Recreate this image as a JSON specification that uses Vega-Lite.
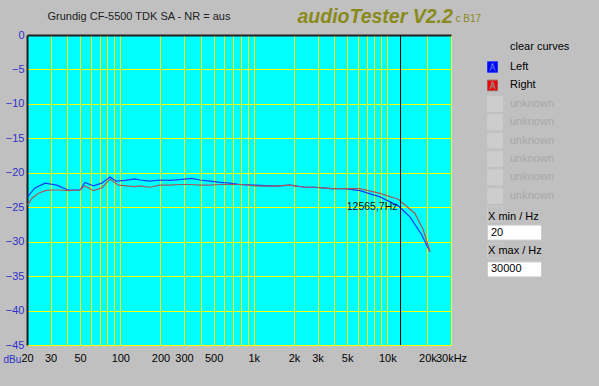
{
  "$schema": "https://vega.github.io/schema/vega-lite/v6.json",
  "width": 424,
  "height": 310,
  "autosize": {"type": "none"},
  "padding": {"left": 27, "top": 35, "right": 148, "bottom": 41},
  "background": "#c0c0c0",
  "config": {"view": {"fill": "#00ffff", "stroke": null}, "font": "Liberation Sans"},
  "datasets": {
    "curves": [
      {"s": "Left", "f": 20.2, "db": -23.5}, {"s": "Left", "f": 22.9, "db": -22.2}, {"s": "Left", "f": 27.3, "db": -21.5}, {"s": "Left", "f": 33.4, "db": -21.8},
      {"s": "Left", "f": 40.6, "db": -22.5}, {"s": "Left", "f": 49.9, "db": -22.5}, {"s": "Left", "f": 54.4, "db": -21.4}, {"s": "Left", "f": 62.8, "db": -21.9},
      {"s": "Left", "f": 72.6, "db": -21.5}, {"s": "Left", "f": 83.7, "db": -20.6}, {"s": "Left", "f": 92.8, "db": -21.2}, {"s": "Left", "f": 108.4, "db": -21.1},
      {"s": "Left", "f": 128.9, "db": -20.9}, {"s": "Left", "f": 140.4, "db": -21.05}, {"s": "Left", "f": 166.8, "db": -21.2}, {"s": "Left", "f": 198, "db": -21.05},
      {"s": "Left", "f": 235.6, "db": -21.1}, {"s": "Left", "f": 280, "db": -21.0}, {"s": "Left", "f": 342.6, "db": -20.8}, {"s": "Left", "f": 395.5, "db": -21.05},
      {"s": "Left", "f": 469.8, "db": -21.2}, {"s": "Left", "f": 558, "db": -21.4}, {"s": "Left", "f": 663, "db": -21.5}, {"s": "Left", "f": 788, "db": -21.7},
      {"s": "Left", "f": 1020, "db": -21.8}, {"s": "Left", "f": 1442, "db": -21.95}, {"s": "Left", "f": 1867, "db": -21.8}, {"s": "Left", "f": 2419, "db": -22.1},
      {"s": "Left", "f": 2871, "db": -22.1}, {"s": "Left", "f": 3832, "db": -22.3}, {"s": "Left", "f": 4822, "db": -22.3}, {"s": "Left", "f": 6238, "db": -22.6},
      {"s": "Left", "f": 8804, "db": -23.5}, {"s": "Left", "f": 12080, "db": -24.8}, {"s": "Left", "f": 14780, "db": -26.4}, {"s": "Left", "f": 18100, "db": -29.0},
      {"s": "Left", "f": 20880, "db": -31.5},
      {"s": "Right", "f": 20.2, "db": -24.7}, {"s": "Right", "f": 21.8, "db": -23.7}, {"s": "Right", "f": 24.2, "db": -23.0}, {"s": "Right", "f": 27.3, "db": -22.6},
      {"s": "Right", "f": 30.6, "db": -22.5}, {"s": "Right", "f": 35.3, "db": -22.5}, {"s": "Right", "f": 40.6, "db": -22.6}, {"s": "Right", "f": 49.9, "db": -22.5},
      {"s": "Right", "f": 54.4, "db": -21.9}, {"s": "Right", "f": 62.8, "db": -22.6}, {"s": "Right", "f": 72.6, "db": -22.2}, {"s": "Right", "f": 83.7, "db": -20.9},
      {"s": "Right", "f": 96.6, "db": -21.8}, {"s": "Right", "f": 128.9, "db": -22.0}, {"s": "Right", "f": 140.4, "db": -21.9}, {"s": "Right", "f": 166.8, "db": -22.1},
      {"s": "Right", "f": 198, "db": -21.8}, {"s": "Right", "f": 235.6, "db": -21.8}, {"s": "Right", "f": 280, "db": -21.7}, {"s": "Right", "f": 336, "db": -21.7},
      {"s": "Right", "f": 395.5, "db": -21.8}, {"s": "Right", "f": 469.8, "db": -21.8}, {"s": "Right", "f": 558, "db": -21.7}, {"s": "Right", "f": 663, "db": -21.7},
      {"s": "Right", "f": 788, "db": -21.7}, {"s": "Right", "f": 1020, "db": -21.9}, {"s": "Right", "f": 1442, "db": -21.95}, {"s": "Right", "f": 1867, "db": -21.8},
      {"s": "Right", "f": 2419, "db": -22.1}, {"s": "Right", "f": 2871, "db": -22.1}, {"s": "Right", "f": 3832, "db": -22.3}, {"s": "Right", "f": 4822, "db": -22.3},
      {"s": "Right", "f": 6238, "db": -22.3}, {"s": "Right", "f": 8804, "db": -23.0}, {"s": "Right", "f": 12080, "db": -23.85}, {"s": "Right", "f": 16110, "db": -25.9},
      {"s": "Right", "f": 18600, "db": -28.3}, {"s": "Right", "f": 20880, "db": -31.5}
    ],
    "cursor": [{"f": 12565.7, "db": -25, "label": "12565,7Hz"}]
  },
  "resolve": {"axis": {"x": "independent", "y": "independent"}},
  "layer": [
    {
      "data": {"name": "curves"},
      "mark": {"type": "line", "strokeWidth": 1.2},
      "encoding": {
        "x": {
          "field": "f", "type": "quantitative",
          "scale": {"type": "log", "domain": [20, 30000], "nice": false},
          "axis": {
            "orient": "bottom",
            "values": [20, 30, 40, 50, 60, 70, 80, 90, 100, 200, 300, 400, 500, 600, 700, 800, 900, 1000, 2000, 3000, 4000, 5000, 6000, 7000, 8000, 9000, 10000, 20000, 30000],
            "labelExpr": "indexof([20,30,50,100,200,300,500,1000,2000,3000,5000,10000,20000,30000], datum.value) < 0 ? '' : datum.value == 30000 ? '30kHz' : datum.value >= 1000 ? (datum.value / 1000) + 'k' : '' + datum.value",
            "grid": true, "gridColor": "#ffff00", "gridOpacity": 1, "gridWidth": 1,
            "ticks": false, "domain": false,
            "labelPadding": 7, "labelFontSize": 11, "labelColor": "#000000", "labelFont": "Liberation Sans",
            "labelFlush": false, "labelOverlap": false, "labelBound": false,
            "title": "c B17", "titleFontSize": 10, "titleFontWeight": "normal", "titleColor": "#8a8a1a",
            "titleX": 428, "titleY": -324, "titleAlign": "left", "titleBaseline": "alphabetic"
          }
        },
        "y": {
          "field": "db", "type": "quantitative",
          "scale": {"domain": [-45, 0], "nice": false},
          "axis": {
            "orient": "left",
            "values": [0, -5, -10, -15, -20, -25, -30, -35, -40, -45],
            "grid": true, "gridColor": "#ffff00", "gridOpacity": 1, "gridWidth": 1,
            "ticks": false, "domain": true, "domainColor": "#202020", "domainWidth": 2,
            "labelPadding": 3, "labelFontSize": 11, "labelColor": "#3030c8", "labelFont": "Liberation Sans", "labelFlush": false,
            "title": "dBu", "titleAngle": 0, "titleX": -24, "titleY": 327, "titleAlign": "left", "titleBaseline": "alphabetic",
            "titleFontSize": 10, "titleFontWeight": "normal", "titleColor": "#3030c8"
          }
        },
        "color": {
          "field": "s", "type": "nominal",
          "scale": {
            "domain": ["Left", "Right", "u1", "u2", "u3", "u4", "u5", "u6", "xmin", "xminv", "xmax", "xmaxv"],
            "range": ["#1838ff", "#a85858", "#cccccc", "#cccccc", "#cccccc", "#cccccc", "#cccccc", "#cccccc", "#cccccc", "#cccccc", "#cccccc", "#cccccc"]
          },
          "legend": {
            "orient": "none", "legendX": 460, "legendY": 5.5, "direction": "vertical", "padding": 0, "gridAlign": "all",
            "title": "clear curves", "titleFontSize": 11, "titleFontWeight": "normal", "titleColor": "#000000", "titlePadding": 7.5, "titleBaseline": "top",
            "symbolType": "square", "symbolSize": 225, "rowPadding": -1.6, "labelOffset": 7,
            "labelFontSize": 11, "labelFont": "Liberation Sans",
            "labelExpr": "datum.value == 'xmin' ? 'X min / Hz' : datum.value == 'xminv' ? '20' : datum.value == 'xmax' ? 'X max / Hz' : datum.value == 'xmaxv' ? '30000' : indexof(datum.value, 'u') == 0 ? 'unknown' : datum.value",
            "encode": {
              "symbols": {"update": {
                "fill": {"signal": "datum.value == 'Left' ? '#0000f0' : datum.value == 'Right' ? '#f00000' : indexof(datum.value, 'u') == 0 ? '#cdcdcd' : (datum.value == 'xminv' || datum.value == 'xmaxv') ? '#ffffff' : 'transparent'"},
                "stroke": {"signal": "indexof(datum.value, 'u') == 0 ? '#eeeeee' : (datum.value == 'xminv' || datum.value == 'xmaxv') ? '#808080' : 'transparent'"},
                "strokeWidth": {"value": 1},
                "opacity": {"value": 1},
                "shape": {"signal": "(datum.value == 'Left' || datum.value == 'Right') ? 'M-1,-0.7H0.33V0.7H-1Z M-0.40,-0.5L-0.71,0.45L-0.58,0.45L-0.51,0.22L-0.15,0.22L-0.08,0.45L0.05,0.45L-0.26,-0.5Z M-0.33,-0.25L-0.22,0.1L-0.44,0.1Z' : (datum.value == 'xminv' || datum.value == 'xmaxv') ? 'M-1,-1H6.2V1H-1Z' : 'square'"}
              }},
              "labels": {"update": {
                "fill": {"signal": "indexof(datum.value, 'u') == 0 ? '#a8a8a8' : '#000000'"},
                "dx": {"signal": "(datum.value == 'xmin' || datum.value == 'xmax') ? -22 : (datum.value == 'xminv' || datum.value == 'xmaxv') ? -19 : 0"},
                "dy": {"signal": "datum.value == 'xmin' ? 3 : 0"}
              }},
              "title": {"update": {"dx": {"value": 23}}}
            }
          }
        }
      }
    },
    {
      "data": {"name": "cursor"},
      "mark": {"type": "rule", "color": "#000000", "strokeWidth": 1},
      "encoding": {
        "x": {
          "field": "f", "type": "quantitative",
          "axis": {
            "orient": "top", "labels": false, "ticks": false, "grid": false,
            "domain": true, "domainColor": "#202020", "domainWidth": 2,
            "title": "Grundig CF-5500 TDK SA - NR = aus", "titleX": 20, "titleY": -16, "titleAlign": "left", "titleBaseline": "alphabetic",
            "titleFontSize": 11, "titleFontWeight": "normal", "titleColor": "#202020", "titleFont": "Liberation Sans"
          }
        }
      }
    },
    {
      "data": {"name": "cursor"},
      "mark": {"type": "text", "align": "right", "baseline": "middle", "dx": -3, "fontSize": 10.5, "color": "#101010"},
      "encoding": {
        "x": {"field": "f", "type": "quantitative", "axis": null},
        "y": {
          "field": "db", "type": "quantitative",
          "axis": {
            "orient": "right", "labels": false, "ticks": false, "grid": false, "domain": false,
            "title": "audioTester V2.2", "titleAngle": 0, "titleX": -154, "titleY": -13, "titleAlign": "left", "titleBaseline": "alphabetic",
            "titleFont": "Liberation Sans", "titleFontSize": 19.5, "titleFontStyle": "italic", "titleFontWeight": "bold", "titleColor": "#8a8a1a"
          }
        },
        "text": {"field": "label"}
      }
    },
    {
      "mark": {"type": "text", "text": "© U.Mueller", "align": "right", "baseline": "alphabetic", "dx": -4, "dy": -3, "fontSize": 10, "color": "#6aa2cc"},
      "encoding": {
        "x": {"datum": 30000, "type": "quantitative", "axis": null},
        "y": {"datum": -45, "type": "quantitative", "axis": null}
      }
    }
  ]
}
